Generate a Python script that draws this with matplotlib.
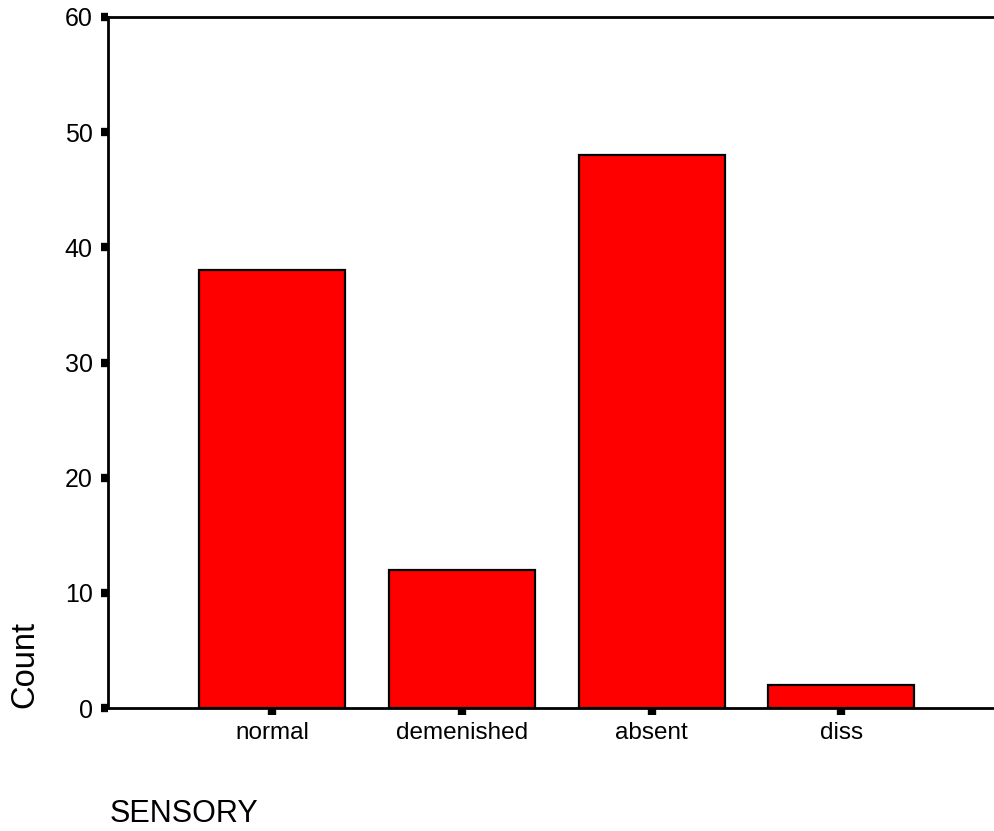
import matplotlib
matplotlib.use("Agg")
import matplotlib.pyplot as plt
from matplotlib import font_manager
import numpy as np

# values (SPSS style bar chart)
categories = ["normal", "demenished", "absent", "diss"]
counts = [38, 12, 48, 2]
yticks = [0, 10, 20, 30, 40, 50, 60]

# pick the regular (not narrow) Liberation Sans
fam = 'DejaVu Sans'
for f in font_manager.fontManager.ttflist:
    if f.fname.endswith('LiberationSans-Regular.ttf'):
        fam = f.name
plt.rcParams['font.family'] = [fam, 'DejaVu Sans']

fig = plt.figure(figsize=(9.95, 8.31), dpi=100)
ax = fig.add_axes([108 / 995, 1 - 708 / 831, 1 - 108 / 995, (708 - 17) / 831])

x = np.arange(len(categories))
ax.bar(x, counts, width=0.77, color='#ff0000', edgecolor='black', linewidth=1.6, zorder=2)

ax.set_xlim(-0.865, 3.81)
ax.set_ylim(0, 60)
ax.set_xticks(x)
ax.set_xticklabels(categories)
ax.set_yticks(yticks)

ax.spines['right'].set_visible(False)
for s in ['left', 'top', 'bottom']:
    ax.spines[s].set_linewidth(2.0)

ax.tick_params(axis='both', direction='out', length=5, width=6, color='black')
ax.tick_params(axis='y', labelsize=18, pad=6)
ax.tick_params(axis='x', labelsize=17.5, pad=5)

fig.text(25 / 995, 1 - 665 / 831, "Count", rotation=90, fontsize=23.5,
         ha='center', va='center')
fig.text(110 / 995, 1 - 822 / 831, "SENSORY", fontsize=22,
         ha='left', va='baseline')

fig.savefig("out.png", dpi=100)
